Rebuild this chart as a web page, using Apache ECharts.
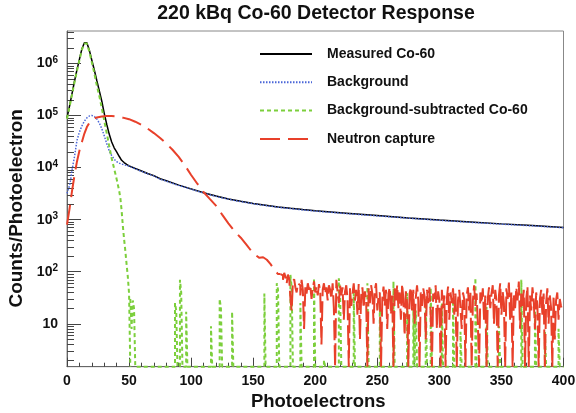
<!DOCTYPE html>
<html><head><meta charset="utf-8">
<script src="https://cdn.jsdelivr.net/npm/echarts@6/dist/echarts.min.js"></script>
<style>html,body{margin:0;padding:0;background:#fff}#c{width:576px;height:413px}</style>
</head><body><div id="c"></div>
<script>
// ---- data ----
const xMeasured = [0,2,4,6,8,10,12,14,15,16,18,20,22,24,26,28,30,32,34,36,38,40,42,44,46,48,50,55,60,65,70,75,80,90,100,110,120,130,140,150,160,170,180,190,200,225,250,275,300,325,350,375,400];
const yMeasured = [9e4,1.5e5,2.6e5,4.5e5,7.5e5,1.2e6,1.9e6,2.5e6,2.6e6,2.5e6,1.8e6,1.15e6,7.5e5,4.7e5,3e5,1.9e5,1.1e5,6.8e4,4.4e4,3.1e4,2.4e4,2e4,1.65e4,1.38e4,1.25e4,1.15e4,1.08e4,9.6e3,8.6e3,7.7e3,7e3,6.1e3,5.6e3,4.6e3,3.9e3,3.3e3,2.85e3,2.5e3,2.25e3,2.05e3,1.9e3,1.75e3,1.65e3,1.56e3,1.48e3,1.33e3,1.2e3,1.08e3,980,900,830,770,710];

const xBackground = [0,1,2,3,4,5,6,7,8,9,10,12,14,16,18,20,22,24,26,28,30,32,34,36,38,40,42,44,46,48,50,55,60,65,70,75,80,90,100,110,120,130,140,150,160,170,180,190,200,225,250,275,300,325,350,375,400];
const yBackground = [3.2e3,3.8e3,4.5e3,6e3,8.8e3,1.2e4,1.6e4,2.3e4,3.3e4,4e4,4.8e4,6.3e4,7.8e4,9e4,9.8e4,1e5,9.6e4,8.6e4,7.2e4,5.6e4,4.1e4,2.9e4,2.1e4,1.7e4,1.45e4,1.3e4,1.22e4,1.17e4,1.13e4,1.1e4,1.06e4,9.5e3,8.5e3,7.6e3,6.9e3,6e3,5.5e3,4.55e3,3.85e3,3.25e3,2.8e3,2.47e3,2.22e3,2.02e3,1.87e3,1.73e3,1.63e3,1.54e3,1.46e3,1.31e3,1.18e3,1.07e3,970,890,820,760,700];

const xSubtracted = [0,2,4,6,8,10,12,14,15,16,18,20,22,24,26,28,30,32,34,36,38,40,42,43,44,45,46,47,48,49,50,51];
const ySubtracted = [8.7e4,1.45e5,2.5e5,4.3e5,7.2e5,1.15e6,1.84e6,2.42e6,2.5e6,2.41e6,1.7e6,1.05e6,6.5e5,3.8e5,2.4e5,1.4e5,8e4,4.6e4,2.6e4,1.5e4,9.5e3,6e3,3.6e3,2.6e3,1.5e3,750,420,250,140,80,38,0];
// sparse non-zero 1-PE bins of the subtracted spectrum (all other bins are 0)
const spikeX = [51,52,53,54,87,88,91,92,96,116,123,124,133,159,169,170,180,181,188,199,207,219,220,231,242,252,263,274,279,281,289,293,302,311,317,329,338,348,366,377,385,396];
const spikeY = [30,8,28,20,25,18,70,40,17,9,30,20,17,38,60,45,87,50,25,75,2,75,40,39,60,25,65,39,20,18,30,49,25,29,7,76,21,9,70,18,7,8];

const xNeutron = [0,2,4,6,8,10,12,14,16,18,20,22,24,28,32,36,40,45,50,55,60,65,70,75,80,85,90,95,100,105,110,115,120,125,130,135,140,145,150,155,158,161,164,167,170,172];
const yNeutron = [8e2,1.6e3,3.5e3,7e3,1.3e4,2.1e4,3.1e4,4.5e4,6e4,7.2e4,8.2e4,8.8e4,9.2e4,9.6e4,9.8e4,9.8e4,9.6e4,9.1e4,8.5e4,7.6e4,6.6e4,5.6e4,4.6e4,3.7e4,2.9e4,2.2e4,1.6e4,1.1e4,7.2e3,4.9e3,3.4e3,2.5e3,1.86e3,1.25e3,850,600,450,320,225,185,190,170,140,110,90,90];
// noisy tail of the neutron spectrum, 1-PE bins starting at 172
const noiseStart = 172, noiseBin = 1;
const noiseY = [
  90,85,70,95,80,60,88,75,30,18,
  65,72,50,40,60,55,35,70,45,8,
  50,38,60,45,55,30,48,65,40,52,
  35,58,42,4,45,60,38,50,28,55,
  45,30,60,20,0,70,40,25,55,35,
  50,12,42,55,30,0,48,22,38,60,
  28,45,15,58,5,35,50,20,42,30,
  0,48,25,55,38,10,45,60,18,35,
  40,0,30,52,22,45,8,38,50,15,
  35,0,48,28,55,20,40,12,58,30,
  6,42,25,0,38,50,18,45,10,32,
  55,28,0,40,22,48,35,5,45,25,
  50,15,0,38,30,55,8,42,28,0,
  45,20,35,0,30,52,12,40,25,48,
  15,38,0,28,45,20,8,40,30,0,
  35,50,18,42,0,28,55,22,38,10,
  0,40,25,48,12,35,0,30,50,20,
  38,55,10,45,28,0,35,60,15,42,
  25,0,48,30,62,12,40,0,35,20,
  50,28,65,8,38,22,45,0,30,52,
  0,35,18,50,28,8,40,22,0,30,
  45,15,38,0,25,48,10,35,20,0,
  35,5,28,40,12,30,22,18];

const xTicks = [0,50,100,150,200,250,300,350,400];
const yMajorTicks = [10,100,1000,10000,100000,1000000];
const yMinorTicks = [2,3,4,5,6,7,8,9,20,30,40,50,60,70,80,90,200,300,400,500,600,700,800,900,
  2000,3000,4000,5000,6000,7000,8000,9000,20000,30000,40000,50000,60000,70000,80000,90000,
  200000,300000,400000,500000,600000,700000,800000,900000,2000000,3000000,4000000];

const YMIN = 1.5, YMAX = 4.2e6;
const F = '"Liberation Sans", Arial, Helvetica, sans-serif';

// ---- build series data (zero bins sit on the axis floor, like ROOT) ----
const floorV = v => Math.max(v, YMIN);
const zip = (xs, ys) => xs.map((x, i) => [x, floorV(ys[i])]);

const greenHist = [];
for (let i = 0; i < spikeX.length; i++) {
  greenHist.push([spikeX[i], floorV(spikeY[i])]);
  if (spikeX[i + 1] !== spikeX[i] + 1) greenHist.push([spikeX[i] + 1, YMIN]);
}
greenHist.push([400, YMIN]);

const redHist = noiseY.map((v, i) => [noiseStart + i * noiseBin, floorV(v)]);
redHist.push([400, floorV(noiseY[noiseY.length - 1])]);

const chart = echarts.init(document.getElementById('c'), null, {renderer: 'canvas'});
const black = '#000000', blue = '#4a66d8', green = '#7ccf3c', red = '#e8402a';

chart.setOption({
  animation: false,
  backgroundColor: '#ffffff',
  title: {
    text: '220 kBq Co-60 Detector Response', left: 316, top: 4, textAlign: 'center', padding: 0,
    textStyle: {fontSize: 19.5, fontWeight: 'bold', color: '#111', fontFamily: F}
  },
  legend: {
    orient: 'vertical', left: 259, top: 47, padding: 0, itemWidth: 52, itemHeight: 14, itemGap: 14.3,
    data: ['Measured Co-60', 'Background', 'Background-subtracted Co-60', 'Neutron capture'],
    itemStyle: {opacity: 0},
    textStyle: {fontSize: 14, fontWeight: 'bold', color: '#111', fontFamily: F, padding: [0, 0, 0, 10]}
  },
  grid: {left: 67, right: 12.5, top: 31, bottom: 46.3, show: true, borderColor: '#888', borderWidth: 1,
    containLabel: false, outerBoundsMode: 'none'},
  xAxis: {
    type: 'value', min: 0, max: 400, interval: 50,
    name: 'Photoelectrons', nameLocation: 'middle', nameGap: 26,
    nameTextStyle: {fontSize: 18.5, fontWeight: 'bold', color: '#111', fontFamily: F, padding: [0, 0, 0, 6]},
    axisLine: {show: true, lineStyle: {color: '#666', width: 1}},
    axisTick: {show: true, inside: true, length: 9, lineStyle: {color: '#444'}},
    minorTick: {show: true, splitNumber: 5, length: 4, lineStyle: {color: '#444'}},
    axisLabel: {margin: 7, fontSize: 14, fontWeight: 'bold', color: '#111', fontFamily: F,
      customValues: xTicks},
    splitLine: {show: false}
  },
  yAxis: [{
    type: 'log', logBase: 10, min: YMIN, max: YMAX,
    name: 'Counts/Photoelectron', nameLocation: 'middle', nameGap: 41,
    nameTextStyle: {fontSize: 19, fontWeight: 'bold', color: '#111', fontFamily: F, padding: [0, 19, 0, 0]},
    axisLine: {show: true, lineStyle: {color: '#666', width: 1}},
    axisTick: {show: true, inside: true, length: 14, lineStyle: {color: '#444'}, customValues: yMajorTicks},
    axisLabel: {
      customValues: yMajorTicks, margin: 9, color: '#111',
      formatter: function (v) {
        const e = Math.round(Math.log10(v));
        return e === 1 ? '{b|10}' : '{b|10}{s|' + e + '}';
      },
      rich: {
        b: {fontSize: 14, fontWeight: 'bold', fontFamily: F, color: '#111', lineHeight: 16},
        s: {fontSize: 10, fontWeight: 'bold', fontFamily: F, color: '#111', lineHeight: 10, verticalAlign: 'top'}
      }
    },
    splitLine: {show: false}
  }, {
    type: 'log', logBase: 10, min: YMIN, max: YMAX, position: 'left', gridIndex: 0,
    axisLine: {show: false}, axisLabel: {show: false}, splitLine: {show: false},
    axisTick: {show: true, inside: true, length: 7, lineStyle: {color: '#444'}, customValues: yMinorTicks}
  }],
  series: [
    {name: 'Measured Co-60', type: 'line', data: zip(xMeasured, yMeasured), symbol: 'none', clip: false,
      color: black, lineStyle: {color: black, width: 1.5}},
    {name: 'Background', type: 'line', data: zip(xBackground, yBackground), symbol: 'none', clip: false,
      color: blue, lineStyle: {color: blue, width: 1.5, type: [1.5, 1.5]}},
    {name: 'Background-subtracted Co-60', type: 'line', data: zip(xSubtracted, ySubtracted), symbol: 'none', clip: false,
      color: green, lineStyle: {color: green, width: 2, type: [4, 3]}},
    {name: 'Background-subtracted Co-60', type: 'line', data: greenHist, step: 'end', symbol: 'none', clip: false,
      color: green, lineStyle: {color: green, width: 2, type: [4, 3]}},
    {name: 'Neutron capture', type: 'line', data: zip(xNeutron, yNeutron), symbol: 'none', clip: false,
      color: red, lineStyle: {color: red, width: 2, type: [20, 8]}},
    {name: 'Neutron capture', type: 'line', data: redHist, step: 'end', symbol: 'none', clip: false,
      color: red, lineStyle: {color: red, width: 2, type: [20, 5]}}
  ]
});
</script></body></html>
